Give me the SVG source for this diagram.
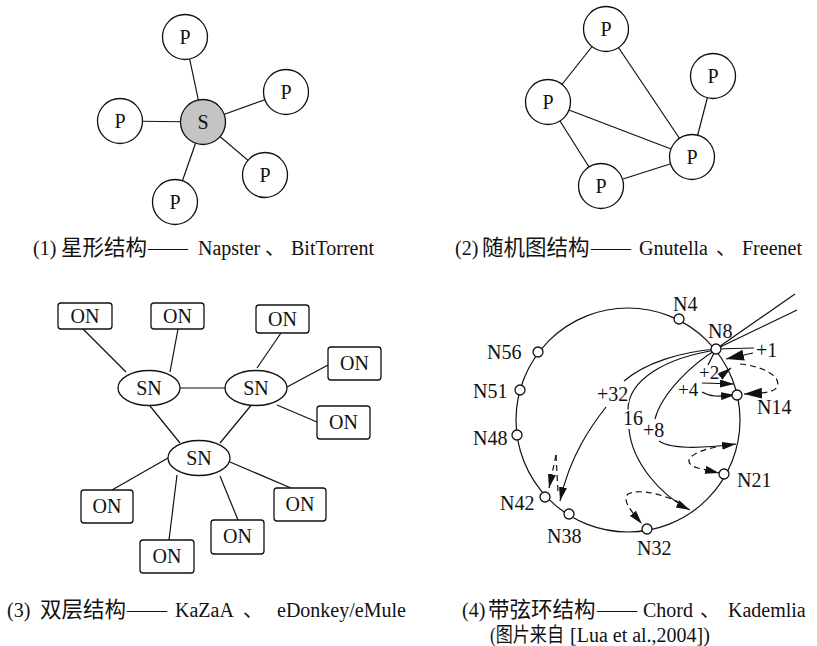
<svg xmlns="http://www.w3.org/2000/svg" width="817" height="646" viewBox="0 0 817 646">
<style>
.ln{stroke:#111;stroke-width:1.2;fill:none}
.ds{stroke:#111;stroke-width:1.2;fill:none;stroke-dasharray:6 4}
.nd{fill:#fff;stroke:#111;stroke-width:1.3}
.sv{fill:#c4c4c4;stroke:#111;stroke-width:1.3}
.bx{fill:#fff;stroke:#111;stroke-width:1.3}
.sm{fill:#fff;stroke:#111;stroke-width:1.3}
.t{font-family:"Liberation Serif","Noto Sans CJK SC",serif;font-size:20px;fill:#111}
.c{font-family:"Liberation Serif","Noto Sans CJK SC",serif;font-size:20px;fill:#111}
.cj{font-size:21.5px}
.lb{font-family:"Liberation Serif","Noto Sans CJK SC",serif;font-size:20px;fill:#111}
.fl{font-family:"Liberation Serif","Noto Sans CJK SC",serif;font-size:19px;fill:#111}
.halo{paint-order:stroke;stroke:#fff;stroke-width:3px}
</style>
<defs>
<marker id="ah" viewBox="0 0 14 8" refX="14" refY="4" markerWidth="14" markerHeight="8" markerUnits="userSpaceOnUse" orient="auto"><path d="M0,0 L14,4 L0,8 z" fill="#111"/></marker>
<marker id="ahb" viewBox="0 0 18 11" refX="18" refY="5.5" markerWidth="18" markerHeight="11" markerUnits="userSpaceOnUse" orient="auto"><path d="M0,0 L18,5.5 L0,11 z" fill="#111"/></marker>
</defs>

<!-- connectors -->
<g id="connectors">
  <!-- star -->
  <line class="ln" x1="203" y1="122" x2="185" y2="37"/>
  <line class="ln" x1="203" y1="122" x2="286" y2="92"/>
  <line class="ln" x1="203" y1="122" x2="120" y2="121"/>
  <line class="ln" x1="203" y1="122" x2="265" y2="175"/>
  <line class="ln" x1="203" y1="122" x2="175" y2="202"/>
  <!-- random graph -->
  <line class="ln" x1="606" y1="29" x2="548" y2="102"/>
  <line class="ln" x1="606" y1="29" x2="692" y2="157"/>
  <line class="ln" x1="548" y1="102" x2="692" y2="157"/>
  <line class="ln" x1="548" y1="102" x2="601" y2="186"/>
  <line class="ln" x1="601" y1="186" x2="692" y2="157"/>
  <line class="ln" x1="713" y1="76" x2="692" y2="157"/>
  <!-- two-tier -->
  <line class="ln" x1="83" y1="329" x2="126" y2="372"/>
  <line class="ln" x1="178" y1="329" x2="170" y2="372"/>
  <line class="ln" x1="180" y1="388" x2="225" y2="388"/>
  <line class="ln" x1="281" y1="333" x2="257" y2="368"/>
  <line class="ln" x1="328" y1="365" x2="287" y2="387"/>
  <line class="ln" x1="317" y1="422" x2="277" y2="405"/>
  <line class="ln" x1="150" y1="406" x2="180" y2="443"/>
  <line class="ln" x1="253" y1="403" x2="220" y2="443"/>
  <line class="ln" x1="168" y1="458" x2="112" y2="490"/>
  <line class="ln" x1="177" y1="475" x2="169" y2="540"/>
  <line class="ln" x1="220" y1="476" x2="238" y2="520"/>
  <line class="ln" x1="230" y1="462" x2="291" y2="488"/>
  <!-- chord ring -->
  <circle class="ln" cx="628" cy="420" r="112"/>
  <line class="ln" x1="716" y1="349" x2="795" y2="294"/>
  <line class="ln" x1="716" y1="349" x2="797" y2="310"/>
  <line class="ln" x1="716" y1="349" x2="754" y2="348"/>
  <path class="ln" d="M753,353 L726,359" marker-end="url(#ahb)"/>
  <path class="ds" d="M740,364 C762,366 782,376 777,387 C774,392 766,393 744,394" marker-end="url(#ahb)"/>
  <line class="ln" x1="715" y1="351" x2="708" y2="365"/>
  <path class="ln" d="M718,378 L731,368" marker-end="url(#ah)"/>
  <path class="ln" d="M702,383 L734,384" marker-end="url(#ah)"/>
  <path class="ln" d="M702,392 C712,398 722,396 735,395" marker-end="url(#ah)"/>
  <path class="ln" d="M716,350 C695,362 662,392 655,419"/>
  <path class="ln" d="M659,441 C672,450 705,448 736,444" marker-end="url(#ah)"/>
  <path class="ds" d="M716,447 C690,452 680,463 698,468 L719,473" marker-end="url(#ah)"/>
  <path class="ln" d="M716,350 C665,358 628,380 628,410"/>
  <path class="ln" d="M629,429 C632,462 660,495 690,510" marker-end="url(#ah)"/>
  <path class="ds" d="M680,503 C665,495 640,488 628,494 C622,500 630,510 642,524" marker-end="url(#ah)"/>
  <path class="ln" d="M716,349 C680,352 645,363 624,381"/>
  <path class="ln" d="M606,407 C592,425 570,455 560,501" marker-end="url(#ah)"/>
  <path class="ds" d="M556,455 L549,488" marker-end="url(#ah)"/>
  <path class="ds" d="M556,455 L558,492"/>
</g>

<!-- (1) star -->
<g id="star-S"><circle class="sv" cx="203" cy="122" r="22.5"/><text class="t" x="203" y="129" text-anchor="middle">S</text></g>
<g id="star-P1"><circle class="nd" cx="185" cy="37" r="22.5"/><text class="t" x="185" y="44" text-anchor="middle">P</text></g>
<g id="star-P2"><circle class="nd" cx="286" cy="92" r="22.5"/><text class="t" x="286" y="99" text-anchor="middle">P</text></g>
<g id="star-P3"><circle class="nd" cx="120" cy="121" r="22.5"/><text class="t" x="120" y="128" text-anchor="middle">P</text></g>
<g id="star-P4"><circle class="nd" cx="265" cy="175" r="22.5"/><text class="t" x="265" y="182" text-anchor="middle">P</text></g>
<g id="star-P5"><circle class="nd" cx="175" cy="202" r="22.5"/><text class="t" x="175" y="209" text-anchor="middle">P</text></g>

<!-- (2) random graph -->
<g id="rnd-P1"><circle class="nd" cx="606" cy="29" r="22.5"/><text class="t" x="606" y="36" text-anchor="middle">P</text></g>
<g id="rnd-P2"><circle class="nd" cx="713" cy="76" r="22.5"/><text class="t" x="713" y="83" text-anchor="middle">P</text></g>
<g id="rnd-P3"><circle class="nd" cx="548" cy="102" r="22.5"/><text class="t" x="548" y="109" text-anchor="middle">P</text></g>
<g id="rnd-P4"><circle class="nd" cx="692" cy="157" r="22.5"/><text class="t" x="692" y="164" text-anchor="middle">P</text></g>
<g id="rnd-P5"><circle class="nd" cx="601" cy="186" r="22.5"/><text class="t" x="601" y="193" text-anchor="middle">P</text></g>

<!-- (3) two-tier -->
<g id="SN1"><ellipse class="nd" cx="149" cy="388" rx="31" ry="17.5"/><text class="t" x="149" y="395" text-anchor="middle">SN</text></g>
<g id="SN2"><ellipse class="nd" cx="256" cy="388" rx="31" ry="17.5"/><text class="t" x="256" y="395" text-anchor="middle">SN</text></g>
<g id="SN3"><ellipse class="nd" cx="199" cy="458" rx="31" ry="17.5"/><text class="t" x="199" y="465" text-anchor="middle">SN</text></g>
<g id="ON1"><rect class="bx" x="58" y="303" width="54" height="26" rx="3"/><text class="t" x="85" y="323" text-anchor="middle">ON</text></g>
<g id="ON2"><rect class="bx" x="151" y="303" width="53" height="26" rx="3"/><text class="t" x="177.5" y="323" text-anchor="middle">ON</text></g>
<g id="ON3"><rect class="bx" x="256" y="305" width="53" height="28" rx="3"/><text class="t" x="282.5" y="326" text-anchor="middle">ON</text></g>
<g id="ON4"><rect class="bx" x="328" y="347" width="53" height="33" rx="3"/><text class="t" x="354.5" y="370" text-anchor="middle">ON</text></g>
<g id="ON5"><rect class="bx" x="317" y="406" width="53" height="33" rx="3"/><text class="t" x="343.5" y="429" text-anchor="middle">ON</text></g>
<g id="ON6"><rect class="bx" x="81" y="490" width="52" height="33" rx="3"/><text class="t" x="107" y="513" text-anchor="middle">ON</text></g>
<g id="ON7"><rect class="bx" x="140" y="540" width="54" height="33" rx="3"/><text class="t" x="167" y="563" text-anchor="middle">ON</text></g>
<g id="ON8"><rect class="bx" x="211" y="520" width="53" height="34" rx="3"/><text class="t" x="237.5" y="543" text-anchor="middle">ON</text></g>
<g id="ON9"><rect class="bx" x="274" y="488" width="52" height="33" rx="3"/><text class="t" x="300" y="511" text-anchor="middle">ON</text></g>

<!-- (4) chord ring nodes -->
<g id="N4"><circle class="sm" cx="679" cy="319" r="5"/><text class="lb" x="673" y="311">N4</text></g>
<g id="N8"><circle class="sm" cx="716" cy="349" r="5"/><text class="lb" x="708" y="338">N8</text></g>
<g id="N56"><circle class="sm" cx="538" cy="352" r="5"/><text class="lb" x="487" y="359">N56</text></g>
<g id="N51"><circle class="sm" cx="520" cy="390" r="5"/><text class="lb" x="473" y="398">N51</text></g>
<g id="N48"><circle class="sm" cx="517" cy="435" r="5"/><text class="lb" x="473" y="445">N48</text></g>
<g id="N14"><circle class="sm" cx="737" cy="395" r="5"/><text class="lb" x="757" y="414">N14</text></g>
<g id="N21"><circle class="sm" cx="724" cy="474" r="5"/><text class="lb" x="737" y="487">N21</text></g>
<g id="N42"><circle class="sm" cx="545" cy="497" r="5"/><text class="lb" x="500" y="510">N42</text></g>
<g id="N38"><circle class="sm" cx="569" cy="514" r="5"/><text class="lb" x="547" y="543">N38</text></g>
<g id="N32"><circle class="sm" cx="647" cy="529" r="5"/><text class="lb" x="637" y="555">N32</text></g>
<g id="finger-labels">
  <text class="lb" x="756" y="357">+1</text>
  <text class="fl halo" x="699" y="379">+2</text>
  <text class="fl halo" x="678" y="396">+4</text>
  <text class="lb halo" x="643" y="437">+8</text>
  <text class="lb halo" x="623" y="425">16</text>
  <text class="lb halo" x="597" y="401">+32</text>
</g>

<!-- captions -->
<g id="captions">
  <text class="c" y="255"><tspan x="33">(1)</tspan><tspan class="cj" x="61">星形结构</tspan><tspan x="148">——</tspan><tspan x="198">Napster</tspan><tspan x="265">、</tspan><tspan x="291">BitTorrent</tspan></text>
  <text class="c" y="255"><tspan x="455">(2)</tspan><tspan class="cj" x="482">随机图结构</tspan><tspan x="591">——</tspan><tspan x="639">Gnutella</tspan><tspan x="716">、</tspan><tspan x="742">Freenet</tspan></text>
  <text class="c" y="617"><tspan x="7">(3)</tspan><tspan class="cj" x="40">双层结构</tspan><tspan x="127">——</tspan><tspan x="175">KaZaA</tspan><tspan x="243">、</tspan><tspan x="277">eDonkey/eMule</tspan></text>
  <text class="c" y="617"><tspan x="462">(4)</tspan><tspan class="cj" x="488">带弦环结构</tspan><tspan x="597">——</tspan><tspan x="643">Chord</tspan><tspan x="700">、</tspan><tspan x="728">Kademlia</tspan></text>
  <text class="c" y="642"><tspan x="490" textLength="74" lengthAdjust="spacingAndGlyphs">(图片来自</tspan><tspan x="570">[Lua et al.,2004])</tspan></text>
</g>
</svg>
